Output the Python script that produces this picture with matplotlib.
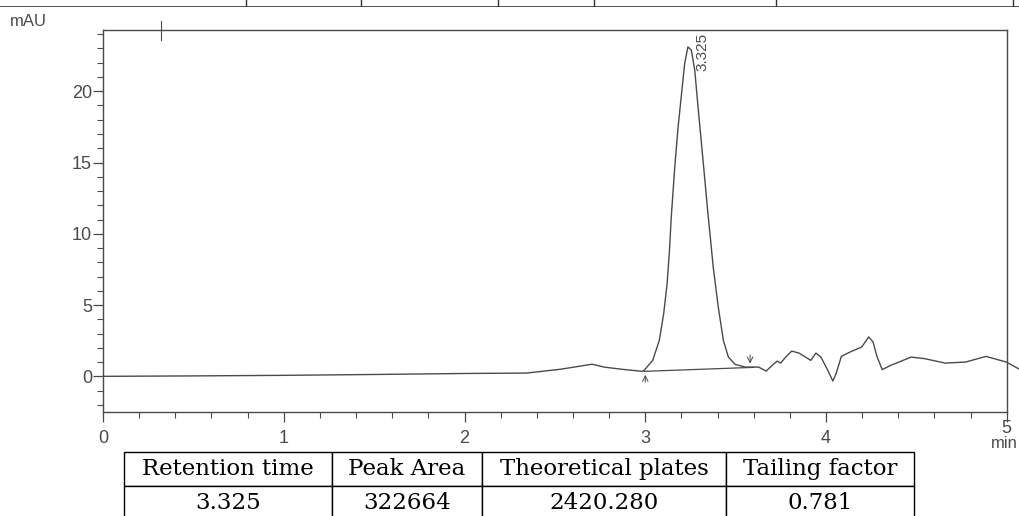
import matplotlib.pyplot as plt
from matplotlib.ticker import MultipleLocator
from matplotlib.transforms import ScaledTranslation

# chromatogram trace (time in min, signal in mAU)
tempo = [0.0, 0.5, 1.0, 1.5, 2.0, 2.344, 2.533, 2.706, 2.772, 2.867, 2.983,
         2.994, 3.041, 3.078, 3.102, 3.121, 3.134, 3.144, 3.162, 3.180, 3.199,
         3.218, 3.236, 3.255, 3.274, 3.292, 3.311, 3.330, 3.345, 3.358, 3.376,
         3.404, 3.432, 3.460, 3.497, 3.553, 3.581, 3.627, 3.669, 3.702, 3.730,
         3.749, 3.777, 3.810, 3.851, 3.916, 3.944, 3.972, 4.010, 4.038, 4.056,
         4.085, 4.132, 4.198, 4.236, 4.260, 4.282, 4.311, 4.358, 4.471, 4.546,
         4.659, 4.772, 4.885, 4.998, 5.064]
sinal = [0.0, 0.03, 0.07, 0.13, 0.2, 0.23, 0.5, 0.85, 0.65, 0.5, 0.35,
         0.42, 1.12, 2.53, 4.40, 6.51, 8.84, 11.18, 14.46, 17.26, 19.60,
         21.94, 23.11, 22.88, 21.47, 18.90, 16.33, 13.75, 11.65, 10.01, 7.67,
         4.86, 2.53, 1.35, 0.84, 0.65, 0.65, 0.65, 0.37, 0.77, 1.07,
         0.93, 1.35, 1.77, 1.63, 1.12, 1.63, 1.35, 0.42, -0.33, 0.19,
         1.40, 1.70, 2.06, 2.76, 2.42, 1.40, 0.47, 0.77, 1.35, 1.24,
         0.93, 1.00, 1.40, 1.00, 0.54]

# integration baseline under the peak
base_t = [2.994, 3.60]
base_v = [0.35, 0.63]
inicio_pico = 3.0
fim_pico = 3.58
rt_label = "3.325"
rt_pos = 3.318
injecao = 0.32
x_ticks = [0, 1, 2, 3, 4, 5]

colunas = ["Retention time", "Peak Area", "Theoretical plates", "Tailing factor"]
valores = ["3.325", "322664", "2420.280", "0.781"]

cor = "#4a4a4a"
sans = ["Liberation Sans", "DejaVu Sans"]

fig = plt.figure(figsize=(10.2, 5.16), dpi=100)
ax = fig.add_axes([0.101, 0.2016, 0.886, 0.7404])

ax.plot(tempo, sinal, color=cor, lw=1.0, clip_on=False)
ax.plot(base_t, base_v, color=cor, lw=0.9)

# integration markers
ax.annotate("", xy=(inicio_pico, 0.3), xytext=(inicio_pico, -0.6),
            arrowprops=dict(arrowstyle="->", color=cor, lw=0.7))
ax.annotate("", xy=(fim_pico, 0.7), xytext=(fim_pico, 1.7),
            arrowprops=dict(arrowstyle="->", color=cor, lw=0.7))
ax.plot([injecao, injecao], [23.6, 24.9], color=cor, lw=0.8, clip_on=False)

ax.text(rt_pos, 24.1, rt_label, rotation=90, ha="center", va="top",
        fontsize=11, color=cor, family=sans)

ax.set_xlim(0, 5.0)
ax.set_ylim(-2.5, 24.3)
ax.set_xticks(x_ticks)
ax.xaxis.set_minor_locator(MultipleLocator(0.2))
ax.yaxis.set_major_locator(MultipleLocator(5))
ax.yaxis.set_minor_locator(MultipleLocator(1))
ax.tick_params(which="major", length=7, width=0.9, color=cor, labelcolor=cor,
               labelsize=13, direction="out")
ax.tick_params(which="minor", length=4, width=0.8, color=cor, direction="out")
ax.tick_params(axis="x", pad=6)
ax.tick_params(axis="y", pad=1)
for lab in ax.get_xticklabels() + ax.get_yticklabels():
    lab.set_family(sans)
# the scan is slightly skewed: the last label sits higher
ultimo = ax.get_xticklabels()[-1]
ultimo.set_transform(ultimo.get_transform()
                     + ScaledTranslation(0, 10 / 100, fig.dpi_scale_trans))
for s in ax.spines.values():
    s.set_color(cor)
    s.set_linewidth(1.0)

fig.text(0.010, 0.958, "mAU", fontsize=12, color=cor, family=sans, va="center")
fig.text(0.998, 0.140, "min", fontsize=12, color=cor, family=sans,
         ha="right", va="center")

# results table below the plot
ax_tab = fig.add_axes([0.1216, -0.0078, 0.7745, 0.1318])
ax_tab.axis("off")
tab = ax_tab.table(cellText=[valores], colLabels=colunas,
                   colWidths=[208, 150, 245, 188], cellLoc="center",
                   bbox=[0, 0, 1, 1])
tab.auto_set_font_size(False)
for cel in tab.get_celld().values():
    cel.set_linewidth(1.0)
    cel.set_edgecolor("black")
    cel.get_text().set_fontsize(16.5)
    cel.get_text().set_family("DejaVu Serif")

# edge of the table row cut at the top of the scan
ax_top = fig.add_axes([0, 0.986, 1, 0.014])
ax_top.axis("off")
ax_top.set_xlim(0, 1020)
ax_top.set_ylim(0, 1)
ax_top.axhline(0, color="#333333", lw=1.2)
for xv in [246, 361, 498, 594, 776, 1013]:
    ax_top.axvline(xv, color="#333333", lw=1.0)

fig.savefig("out.png", dpi=100)
plt.close(fig)
